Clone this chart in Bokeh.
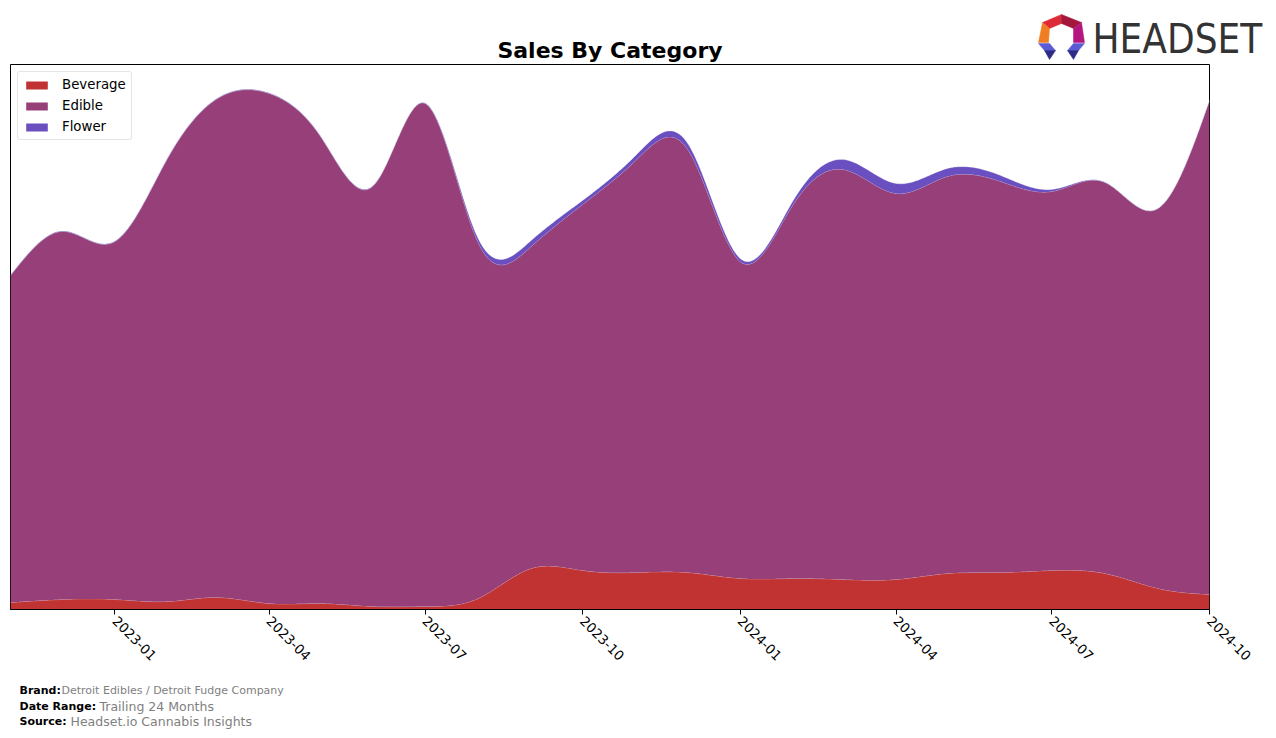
import numpy as np
from datetime import datetime
from bokeh.plotting import figure
from bokeh.layouts import column
from bokeh.models import Range1d, FixedTicker, Legend, LegendItem
from bokeh.core.properties import value
from bokeh.embed import file_html
from bokeh.resources import INLINE

# ---------------- data (monthly) ----------------
months = ["2022-11", "2022-12", "2023-01", "2023-02", "2023-03", "2023-04", "2023-05",
          "2023-06", "2023-07", "2023-08", "2023-09", "2023-10", "2023-11", "2023-12",
          "2024-01", "2024-02", "2024-03", "2024-04", "2024-05", "2024-06", "2024-07",
          "2024-08", "2024-09", "2024-10"]
beverage = [7, 10, 10, 8, 12, 6, 6, 3, 3, 11, 41, 39, 37, 37, 31, 31, 30, 30, 36, 37, 39, 36, 21, 15]
edible = [327, 368, 358, 444, 498, 510, 467, 421, 503, 356, 322, 366, 412, 424, 317, 374,
          410, 386, 397, 391, 379, 391, 380, 494]
flower = [0.5, 0.5, 0.5, 0.5, 0.5, 0.5, 0.5, 0.5, 0.5, 4, 6, 4, 5, 6, 3, 4, 10, 10, 8, 6, 2,
          0.3, 0.3, 0.3]
tick_labels = ["2023-01", "2023-04", "2023-07", "2023-10", "2024-01", "2024-04", "2024-07", "2024-10"]
categories = ["Beverage", "Edible", "Flower"]
colors = ["#c13232", "#963f78", "#6a4fc0"]

title_text = "Sales By Category"
footer_keys = ["Brand:", "Date Range:", "Source:"]
footer_vals = ["Detroit Edibles / Detroit Fudge Company", "Trailing 24 Months",
               "Headset.io Cannabis Insights"]


def ms(s):
    return datetime.strptime(s, "%Y-%m").timestamp() * 1000.0


def natural_spline(x, y, xs):
    """Smooth rendering of the monthly points (natural cubic spline)."""
    x = np.asarray(x, float); y = np.asarray(y, float)
    n = len(x)
    h = np.diff(x)
    A = np.zeros((n, n)); b = np.zeros(n)
    A[0, 0] = 1; A[-1, -1] = 1
    for i in range(1, n - 1):
        A[i, i - 1] = h[i - 1]
        A[i, i] = 2 * (h[i - 1] + h[i])
        A[i, i + 1] = h[i]
        b[i] = 3 * ((y[i + 1] - y[i]) / h[i] - (y[i] - y[i - 1]) / h[i - 1])
    c = np.linalg.solve(A, b)
    bb = np.zeros(n - 1); d = np.zeros(n - 1)
    for i in range(n - 1):
        bb[i] = (y[i + 1] - y[i]) / h[i] - h[i] * (2 * c[i] + c[i + 1]) / 3
        d[i] = (c[i + 1] - c[i]) / (3 * h[i])
    idx = np.clip(np.searchsorted(x, xs) - 1, 0, n - 2)
    dx = xs - x[idx]
    return y[idx] + bb[idx] * dx + c[idx] * dx ** 2 + d[idx] * dx ** 3


xm = np.array([ms(m) for m in months])
xs = np.linspace(xm[0], xm[-1], 900)
series = [beverage, edible, flower]
smooth = [np.clip(natural_spline(xm, s, xs), 0, None) for s in series]

W = 1276
HEAD_H, MAIN_H, FOOT_H = 64, 612, 62


def blank(h):
    f = figure(width=W, height=h, output_backend="svg", toolbar_location=None,
               x_range=Range1d(0, W), y_range=Range1d(h, 0),
               min_border=0, min_border_left=0, min_border_right=0,
               min_border_top=0, min_border_bottom=0, frame_align=False)
    f.axis.visible = False
    f.grid.visible = False
    f.outline_line_color = None
    f.background_fill_color = "white"
    f.border_fill_color = "white"
    return f


# ---------------- header: title + logo ----------------
head = blank(HEAD_H)
head.text(x=[609.5], y=[50], text=[title_text], text_font=value("DejaVu Sans"),
          text_font_size="16.5pt", text_font_style="bold", text_color="black",
          text_align="center", text_baseline="middle")
head.text(x=[1092], y=[38], text=["HEADSET"],
          text_font=value("'DejaVu Sans Condensed', 'Liberation Sans Narrow', 'DejaVu Sans'"),
          text_font_size="40px", text_color="#333333",
          text_align="left", text_baseline="middle")
logo_xs = [
    [1042, 1061, 1061, 1049],
    [1061, 1081, 1073, 1061],
    [1042, 1049, 1048, 1038],
    [1081, 1084, 1073, 1073],
    [1038, 1049, 1055, 1044],
    [1044, 1055, 1049],
    [1084, 1073, 1067, 1078],
    [1078, 1067, 1073],
]
logo_ys = [
    [22, 14, 23, 28],
    [14, 22, 28, 23],
    [22, 28, 42, 42],
    [22, 42, 42, 28],
    [43, 43, 50, 50],
    [50, 50, 59],
    [43, 43, 50, 50],
    [50, 50, 59],
]
logo_cols = ["#dc2b36", "#a3173c", "#f07d22", "#b5157f", "#5b5bd6", "#2c2c86", "#5b5bd6", "#2c2c86"]
head.patches(xs=logo_xs, ys=logo_ys, fill_color=logo_cols, line_color=logo_cols, line_width=0.5)

# ---------------- main chart ----------------
p = figure(width=W, height=MAIN_H, output_backend="svg", toolbar_location=None,
           x_axis_type="datetime",
           x_range=Range1d(xm[0], xm[-1]), y_range=Range1d(0, 545),
           min_border_left=10, min_border_right=67, min_border_top=0, min_border_bottom=67,
           frame_align=False)
p.grid.visible = False
p.yaxis.visible = False
p.outline_line_color = "black"
p.outline_line_width = 1
p.background_fill_color = "white"
p.border_fill_color = "white"

xa = p.xaxis[0]
xa.ticker = FixedTicker(ticks=[ms(t) for t in tick_labels])
xa.major_label_overrides = {ms(t): t for t in tick_labels}
xa.major_label_orientation = -np.pi / 4
xa.major_label_text_font = "DejaVu Sans"
xa.major_label_text_font_size = "10pt"
xa.major_label_text_color = "black"
xa.major_label_standoff = 4
xa.axis_line_color = "black"
xa.major_tick_line_color = "black"
xa.major_tick_out = 5
xa.major_tick_in = 0
xa.minor_tick_line_color = None

base = np.zeros_like(xs)
renderers = []
for name, s, col in zip(categories, smooth, colors):
    top = base + s
    r = p.varea(x=xs, y1=base, y2=top, fill_color=col, fill_alpha=1.0)
    p.line(x=xs, y=top, line_color="white", line_alpha=0.35, line_width=0.8)
    renderers.append(r)
    base = top

legend = Legend(items=[LegendItem(label=n, renderers=[r]) for n, r in zip(categories, renderers)],
                location="top_left")
legend.label_text_font = "DejaVu Sans"
legend.label_text_font_size = "10pt"
legend.label_text_color = "black"
legend.label_standoff = 12
legend.glyph_width = 27
legend.glyph_height = 10
legend.spacing = 6
legend.padding = 5
legend.margin = 7
legend.border_line_color = "#cccccc"
legend.border_line_width = 1
legend.border_radius = 3
legend.background_fill_alpha = 1
p.add_layout(legend)

# ---------------- footer ----------------
foot = blank(FOOT_H)
fy = [14, 30, 45]
key_x = [19, 19, 19]
val_x = [61, 99, 70]
val_sizes = ["11px", "12.5px", "12.5px"]
foot.text(x=key_x, y=fy, text=footer_keys, text_font=value("DejaVu Sans"),
          text_font_size="11px", text_font_style="bold", text_color="black",
          text_baseline="middle")
for vx, vy, vt, vs in zip(val_x, fy, footer_vals, val_sizes):
    foot.text(x=[vx], y=[vy], text=[vt], text_font=value("DejaVu Sans"),
              text_font_size=vs, text_color="#808080", text_baseline="middle")

layout = column(head, p, foot, spacing=0)
open("out.html", "w").write(file_html(layout, INLINE))
